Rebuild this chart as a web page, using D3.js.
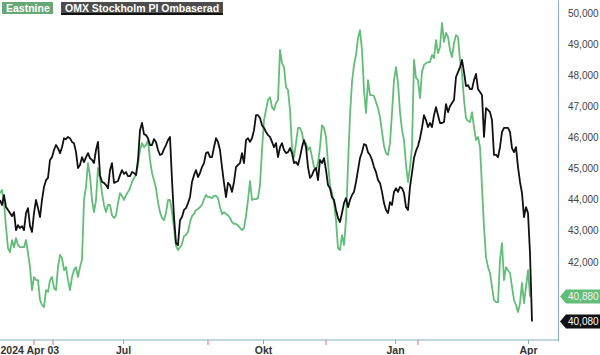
<!DOCTYPE html>
<html lang="sv">
<head>
  <meta charset="UTF-8">
  <title>Eastnine vs OMX Stockholm PI</title>
  <script src="https://d3js.org/d3.v7.min.js"></script>
  <style>
    * { margin: 0; padding: 0; box-sizing: border-box; }
    body { font-family: "Liberation Sans", Arial, sans-serif; background: #fff; }
    svg { display: block; }
  </style>
</head>
<body>
  <div id="chart"></div>

  <script>
    // handelsdagar, index 0 = 2024-04-03
    const omx = [
      43990, 43830, 44150, 43760, 43670, 43570, 43470, 43600, 43020, 43180,
      43090, 43150, 43020, 43570, 43730, 43150, 42960, 43570, 43990, 43730,
      43440, 43990, 44410, 44630, 44700, 45280, 45370, 45600, 45760, 45660,
      45500, 45690, 45980, 45950, 46020, 45980, 45860, 45820, 45530, 45020,
      45120, 45370, 45210, 45370, 45500, 45340, 45280, 45180, 45600, 45860,
      44790, 44570, 44540, 44470, 44370, 44950, 45180, 44540, 44570, 44600,
      44790, 44950, 44830, 44890, 44760, 44760, 44890, 44860, 44790, 45280,
      46240, 46470, 46110, 46080, 45980, 45760, 45760, 45950, 45860, 45600,
      45440, 45470, 45630, 45760, 45920, 46020, 44630, 43440, 42600, 42540,
      43340, 43440, 43670, 43730, 43890, 44080, 44570, 44790, 44950, 44730,
      44860, 45050, 45180, 45500, 45530, 45370, 45370, 45690, 45980, 45860,
      45600, 45050, 44540, 44080, 44540, 44470, 44250, 44570, 45050, 45120,
      45180, 45500, 45180, 45920, 45980, 45860, 45980, 46240, 46720, 46720,
      46630, 46400, 46310, 46180, 46080, 46020, 45860, 45690, 45820, 45370,
      45690, 45820, 45600, 45500, 45530, 45660, 45500, 45180, 45210, 45120,
      45370, 45690, 45920, 45690, 45050, 44700, 44790, 44950, 45020, 44630,
      45280, 45180, 45340, 44950, 44470, 44370, 44080, 43990, 43670, 43410,
      43280, 43570, 43890, 44050, 43760, 43990, 44150, 44250, 44570, 44950,
      45340, 45530, 45790, 45760, 45530, 45440, 45280, 45050, 44890, 44630,
      44540, 44250, 43890, 43670, 43570, 43920, 43830, 44250, 44370, 44250,
      44410, 44370, 44210, 43760, 43670, 44410, 44860, 45340, 45570, 45730,
      45980, 46310, 46720, 46560, 46340, 46470, 46340, 46720, 46980, 46720,
      46470, 46470, 46500, 47080, 46820, 47010, 47110, 47210, 47950, 48110,
      48270, 48500, 48110, 47660, 47690, 47560, 47560, 47850, 48050, 47560,
      47470, 47370, 46020, 46950, 46890, 46820, 46560, 45440, 45440, 45370,
      45690, 46180, 46310, 46310, 46310, 46180, 45660, 45530, 45690, 45050,
      44570, 44210, 43440, 43760, 43570, 42280, 40080
    ];

    const eastnine = [
      44210, 44310, 43890, 43120, 42440, 42310, 42700, 42470, 42760, 42540,
      42470, 42470, 42470, 42700, 42280, 41830, 41090, 41510, 41410, 41410,
      40770, 40610, 40540, 41090, 41030, 41410, 41510, 41150, 41090, 41830,
      42220, 42120, 41730, 41830, 41410, 41090, 41510, 41730, 41830, 41510,
      41830, 42060, 43990, 44410, 45180, 44760, 43990, 43600, 43990, 45020,
      44700, 44210, 43830, 43600, 43830, 43830, 43500, 43410, 43500, 43890,
      44210, 44120, 43990, 44150, 44250, 44370, 44570, 44700, 44790, 45120,
      45600, 45820, 45690, 45760, 45920, 45280, 44860, 44630, 44370, 43920,
      43600, 43410, 43340, 43570, 43990, 43990, 43600, 43090, 42510, 42380,
      42470, 42570, 42830, 42860, 42960, 43280, 43470, 43540, 43670, 43700,
      43760, 43830, 44020, 44150, 44080, 44080, 44050, 44120, 44120, 44050,
      43760, 43540, 43600, 43540, 43500, 43410, 43280, 43220, 43220, 43180,
      43090, 43020, 43090, 43470, 43990, 44600, 43990, 44020, 44020, 44050,
      44470, 45600, 46560, 46890, 47210, 47300, 46980, 46890, 47110, 47210,
      48820, 48400, 48270, 47630, 47530, 46890, 45690, 45370, 45820, 46310,
      46310, 46150, 45820, 45820, 45600, 45690, 45370, 45050, 44950, 45180,
      45690, 46400, 46310, 46020, 45180, 44470, 44210, 43890, 43340, 42440,
      42380, 42860, 42540, 43340, 45120, 46720, 47790, 48340, 48660, 49200,
      49460, 48820, 47530, 46790, 47850, 47370, 47370, 47340, 47140, 46950,
      46660, 46180, 45730, 45500, 45440, 45820, 46790, 47850, 48270, 47760,
      46820, 46240, 45920, 45120, 44570, 45050, 45690, 48500, 47920, 47850,
      47270, 48110, 48340, 48400, 48430, 48430, 48660, 48560, 49140, 48720,
      48910, 49690, 49080, 49370, 49240, 48820, 48590, 49040, 49300, 49240,
      48500, 48080, 47210, 46630, 46530, 46500, 46820, 46340, 45920, 46020,
      45690, 44410, 43120, 42150, 41830, 41640, 41190, 40770, 40700, 40700,
      42060, 42600, 41410, 41830, 41730, 41640, 41190, 40770, 40610, 40380,
      40670, 41320, 40670, 41190, 41730, 40880
    ];

    const seriesNames = ["Eastnine", "OMX Stockholm PI Ombaserad"];
    const monthTickIdx = [0, 61.5, 131.5, 197.5, 264];
    const monthTickLabels = ["2024 Apr 03", "Jul", "Okt", "Jan", "Apr"];
    const eventIdx = [17, 26.5, 104, 163, 209];
    const yTicks = [42000, 43000, 44000, 45000, 46000, 47000, 48000, 49000, 50000];

    const W = 600, H = 355;
    const plotRight = 558, axisY = 340;
    const green = "#62bd78", black = "#111111", axisColor = "#86aebd";

    const svg = d3.select("#chart").append("svg")
      .attr("width", W).attr("height", H);

    const x = d3.scaleLinear()
      .domain([0, omx.length - 1])
      .range([0, 532]);

    const y = d3.scaleLinear()
      .domain([39450, 50430])
      .range([341, 0]);

    const line = d3.line()
      .x((d, i) => x(i))
      .y(d => y(d));

    // axlar
    svg.append("line")
      .attr("x1", 0).attr("x2", plotRight)
      .attr("y1", axisY).attr("y2", axisY)
      .attr("stroke", axisColor).attr("stroke-width", 1);

    const yAxis = svg.append("g")
      .attr("transform", `translate(${plotRight},0)`)
      .call(d3.axisRight(y)
        .tickValues(yTicks)
        .tickSize(0)
        .tickPadding(10)
        .tickFormat(d3.format(",")));
    yAxis.select(".domain").attr("stroke", axisColor);
    yAxis.selectAll("text")
      .attr("fill", "#444")
      .style("font-size", "10px")
      .style("font-family", "Liberation Sans, Arial, sans-serif");

    svg.selectAll(".event")
      .data(eventIdx)
      .enter()
      .append("line")
      .attr("class", "event")
      .attr("x1", d => x(d)).attr("x2", d => x(d))
      .attr("y1", axisY).attr("y2", axisY + 5)
      .attr("stroke", "#e06a6a").attr("stroke-width", 1);

    const xAxis = svg.append("g")
      .attr("transform", `translate(0,${axisY})`)
      .call(d3.axisBottom(x)
        .tickValues(monthTickIdx)
        .tickSize(4)
        .tickPadding(3)
        .tickFormat((d, i) => monthTickLabels[i]));
    xAxis.select(".domain").remove();
    xAxis.selectAll("line").attr("stroke", axisColor);
    xAxis.selectAll(".tick").filter((d, i) => i === 0).select("line").remove();
    xAxis.selectAll("text")
      .attr("fill", "#333")
      .style("font-size", "10.5px")
      .style("font-weight", "bold")
      .style("font-family", "Liberation Sans, Arial, sans-serif");
    xAxis.selectAll(".tick").filter((d, i) => i === 0).select("text")
      .attr("text-anchor", "start");

    // linjer
    svg.append("path")
      .datum(eastnine)
      .attr("fill", "none")
      .attr("stroke", green)
      .attr("stroke-width", 1.8)
      .attr("stroke-linejoin", "round")
      .attr("d", line);

    svg.append("path")
      .datum(omx)
      .attr("fill", "none")
      .attr("stroke", black)
      .attr("stroke-width", 1.8)
      .attr("stroke-linejoin", "round")
      .attr("d", line);

    // värdeetiketter till höger
    const lastVals = [
      {v: eastnine[eastnine.length - 1], bg: green, fg: "#f4f4f4"},
      {v: omx[omx.length - 1], bg: black, fg: "#ffffff"}
    ];
    const tags = svg.selectAll(".tag")
      .data(lastVals)
      .enter()
      .append("g")
      .attr("class", "tag")
      .attr("transform", d => `translate(${plotRight + 2},${y(d.v)})`);
    tags.append("path")
      .attr("d", "M0,0 L6,-7 L45,-7 L45,7 L6,7 Z")
      .attr("fill", d => d.bg);
    tags.append("text")
      .attr("x", 8)
      .attr("y", 3.5)
      .attr("fill", d => d.fg)
      .style("font-size", "10px")
      .style("font-family", "Liberation Sans, Arial, sans-serif")
      .text(d => d3.format(",")(d.v));

    // förklaring
    const legend = [
      {name: seriesNames[0], bg: "#66a877", x: 2, w: 51},
      {name: seriesNames[1], bg: "#4d4d4d", x: 61, w: 162}
    ];
    const lg = svg.selectAll(".legend")
      .data(legend)
      .enter()
      .append("g")
      .attr("class", "legend")
      .attr("transform", d => `translate(${d.x},2)`);
    lg.append("rect")
      .attr("width", d => d.w)
      .attr("height", 12)
      .attr("fill", d => d.bg);
    lg.filter((d, i) => i === 1).append("rect")
      .attr("y", 11)
      .attr("width", d => d.w)
      .attr("height", 2)
      .attr("fill", "#111");
    lg.append("text")
      .attr("x", 4)
      .attr("y", 10)
      .attr("fill", "#fff")
      .style("font-size", "10.5px")
      .style("font-weight", "bold")
      .style("font-family", "Liberation Sans, Arial, sans-serif")
      .text(d => d.name);
  </script>
</body>
</html>
